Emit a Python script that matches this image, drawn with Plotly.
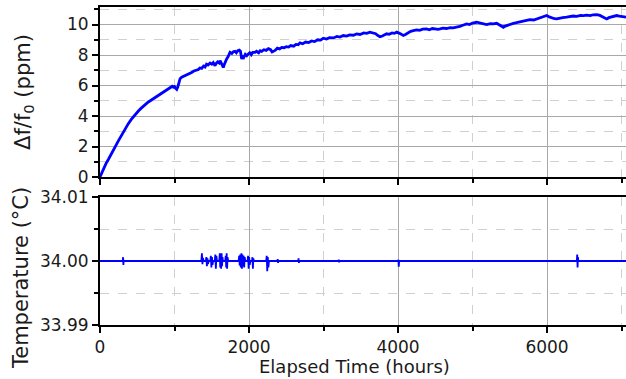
import plotly.graph_objects as go

# ---- Data ----
elapsed_hours = [0, 20, 50, 80, 112, 150, 201, 250, 291, 340, 380, 420, 450, 480, 515, 550, 580, 610, 649, 680,
                 720, 750, 783, 820, 850, 880, 917, 950, 970, 985, 1000, 1015, 1030, 1045, 1060, 1075, 1096, 1120,
                 1150, 1180, 1200, 1230, 1260, 1290, 1320, 1340, 1365, 1390, 1410, 1430, 1450, 1477, 1500, 1520,
                 1544, 1560, 1580, 1600, 1611, 1630, 1645, 1655, 1670, 1685, 1700, 1720, 1745, 1770, 1790, 1812,
                 1830, 1850, 1870, 1885, 1895, 1902, 1915, 1930, 1950, 1970, 1991, 2010, 2030, 2050, 2081, 2100,
                 2130, 2150, 2170, 2200, 2230, 2260, 2290, 2310, 2327, 2350, 2380, 2410, 2440, 2470, 2500, 2530,
                 2560, 2600, 2630, 2660, 2685, 2720, 2760, 2800, 2840, 2880, 2920, 2960, 2998, 3040, 3080, 3132,
                 3180, 3220, 3266, 3310, 3350, 3400, 3445, 3490, 3540, 3580, 3624, 3660, 3700, 3730, 3758, 3790,
                 3820, 3848, 3880, 3920, 3950, 3982, 4020, 4050, 4072, 4100, 4140, 4170, 4206, 4250, 4290, 4330,
                 4385, 4420, 4460, 4500, 4540, 4564, 4600, 4650, 4700, 4740, 4787, 4830, 4870, 4922, 4960, 5000,
                 5056, 5100, 5150, 5190, 5240, 5280, 5324, 5360, 5390, 5414, 5440, 5480, 5520, 5548, 5590, 5640,
                 5680, 5727, 5770, 5820, 5861, 5900, 5940, 5970, 5996, 6030, 6070, 6100, 6130, 6170, 6210, 6264,
                 6300, 6350, 6400, 6450, 6488, 6530, 6580, 6620, 6667, 6710, 6750, 6780, 6801, 6830, 6870, 6900,
                 6935, 6970, 7010, 7060]
drift_ppm = [0.0, 0.24, 0.58, 0.88, 1.15, 1.52, 1.98, 2.40, 2.75, 3.18, 3.50, 3.78, 3.97, 4.15, 4.33, 4.50, 4.64,
             4.76, 4.92, 5.02, 5.15, 5.26, 5.35, 5.47, 5.55, 5.66, 5.77, 5.86, 5.95, 5.90, 5.93, 5.82, 5.75, 5.92,
             6.25, 6.45, 6.55, 6.60, 6.68, 6.72, 6.80, 6.86, 6.95, 7.00, 7.05, 7.15, 7.12, 7.28, 7.22, 7.40, 7.35,
             7.48, 7.40, 7.50, 7.30, 7.45, 7.55, 7.48, 7.63, 7.45, 7.30, 7.18, 7.40, 7.62, 7.74, 7.90, 8.18, 8.10,
             8.22, 8.24, 8.15, 8.28, 8.32, 8.25, 7.90, 7.74, 7.95, 7.85, 8.05, 7.95, 8.07, 8.15, 8.02, 8.18, 8.18,
             8.25, 8.15, 8.28, 8.24, 8.35, 8.30, 8.42, 8.35, 8.20, 8.24, 8.30, 8.45, 8.40, 8.50, 8.48, 8.55, 8.52,
             8.62, 8.58, 8.70, 8.68, 8.80, 8.74, 8.85, 8.82, 8.92, 8.88, 9.00, 8.98, 9.10, 9.05, 9.14, 9.12, 9.22,
             9.18, 9.28, 9.24, 9.32, 9.30, 9.39, 9.35, 9.45, 9.42, 9.50, 9.44, 9.40, 9.28, 9.20, 9.25, 9.35, 9.39,
             9.36, 9.45, 9.42, 9.50, 9.42, 9.32, 9.28, 9.35, 9.48, 9.55, 9.60, 9.65, 9.62, 9.70, 9.71, 9.66, 9.74,
             9.70, 9.68, 9.71, 9.76, 9.74, 9.80, 9.78, 9.82, 9.88, 9.95, 10.04, 10.00, 10.10, 10.15, 10.10, 10.02,
             10.00, 10.06, 10.04, 10.08, 9.98, 9.88, 9.82, 9.90, 9.98, 10.05, 10.08, 10.12, 10.18, 10.22, 10.26,
             10.32, 10.30, 10.37, 10.42, 10.50, 10.55, 10.59, 10.50, 10.42, 10.38, 10.37, 10.42, 10.46, 10.48,
             10.52, 10.56, 10.54, 10.60, 10.59, 10.62, 10.58, 10.64, 10.65, 10.60, 10.50, 10.40, 10.37, 10.45,
             10.52, 10.56, 10.59, 10.55, 10.50, 10.48]

temp_hours = [0, 305, 310, 314, 318,
              1360, 1368, 1375, 1382, 1390,
              1420, 1428, 1435, 1442, 1450, 1458,
              1480, 1488, 1495, 1502, 1510, 1518,
              1540, 1548, 1555, 1562, 1570,
              1600, 1608, 1614, 1620, 1626, 1632, 1638, 1644, 1650,
              1680, 1688, 1694, 1700, 1706, 1712, 1720,
              1860, 1868, 1875, 1882, 1890, 1898, 1905, 1912, 1920, 1928, 1935, 1942, 1950,
              1980, 1988, 1995, 2002, 2010, 2018,
              2040, 2046, 2052, 2058, 2066,
              2230, 2238, 2245, 2252, 2260, 2268,
              2380, 2385, 2390, 2395,
              2660, 2665, 2670, 2675,
              3200, 3205, 3210, 3215,
              4000, 4005, 4010, 4015,
              6400, 6405, 6410, 6415, 6420,
              7060]
temp_c = [34.0000, 34.0000, 34.0006, 33.9994, 34.0000,
          34.0000, 34.0012, 33.9995, 34.0005, 34.0000,
          34.0000, 34.0006, 33.9992, 34.0004, 33.9995, 34.0000,
          34.0000, 34.0008, 33.9990, 34.0006, 33.9994, 34.0000,
          34.0000, 34.0010, 33.9988, 34.0008, 34.0000,
          34.0000, 34.0012, 33.9990, 34.0010, 33.9988, 34.0012, 33.9992, 34.0006, 34.0000,
          34.0000, 34.0008, 33.9990, 34.0012, 33.9988, 34.0006, 34.0000,
          34.0000, 34.0008, 33.9993, 34.0010, 33.9990, 34.0012, 33.9988, 34.0010, 33.9992, 34.0008, 33.9990, 34.0006, 34.0000,
          34.0000, 34.0008, 33.9988, 34.0006, 33.9994, 34.0000,
          34.0000, 34.0006, 33.9988, 34.0004, 34.0000,
          34.0000, 34.0008, 33.9984, 34.0006, 33.9990, 34.0000,
          34.0000, 34.0003, 33.9997, 34.0000,
          34.0000, 34.0004, 33.9997, 34.0000,
          34.0000, 34.0002, 33.9998, 34.0000,
          34.0000, 34.0002, 33.9991, 34.0000,
          34.0000, 34.0010, 33.9990, 34.0006, 34.0000,
          34.0000]

x_ticks = [0, 2000, 4000, 6000]
ppm_ticks = [0, 2, 4, 6, 8, 10]
temp_ticks = [33.99, 34.00, 34.01]

FONT = "DejaVu Sans, Liberation Sans, Arial, sans-serif"
TXT = "#1a1a1a"
BLUE = "#0000ff"

fig = go.Figure()
fig.add_trace(go.Scatter(x=elapsed_hours, y=drift_ppm, mode="lines",
                         line=dict(color=BLUE, width=2.8), xaxis="x", yaxis="y", showlegend=False))
fig.add_trace(go.Scatter(x=temp_hours, y=temp_c, mode="lines",
                         line=dict(color=BLUE, width=1.8), xaxis="x2", yaxis="y2", showlegend=False))

def xaxis_style(show_labels, anchor):
    return dict(range=[0, 7060], anchor=anchor, automargin=False, tickmode="array", tickvals=x_ticks,
                ticktext=[str(v) for v in x_ticks], showticklabels=show_labels,
                showline=True, linecolor="black", linewidth=2, mirror=True,
                ticks="outside", ticklen=6, tickwidth=2, tickcolor="black",
                showgrid=True, gridcolor="#a8a8a8", gridwidth=1, zeroline=False,
                tickfont=dict(family=FONT, size=17, color=TXT),
                minor=dict(dtick=1000, tick0=0, ticks="outside", ticklen=4, tickwidth=1.5,
                           tickcolor="black", showgrid=True, gridcolor="#d0d0d0",
                           griddash="dash", gridwidth=1))

def yaxis_style(domain, rng, ticks, minor_dtick, fmt, anchor):
    return dict(domain=domain, range=rng, anchor=anchor, automargin=False, tickmode="array", tickvals=ticks,
                ticktext=[fmt.format(v) for v in ticks],
                showline=True, linecolor="black", linewidth=2, mirror=False,
                ticks="outside", ticklen=6, tickwidth=2, tickcolor="black",
                showgrid=True, gridcolor="#a8a8a8", gridwidth=1, zeroline=False,
                tickfont=dict(family=FONT, size=17, color=TXT),
                minor=dict(dtick=minor_dtick, tick0=rng[0], ticks="outside", ticklen=4,
                           tickwidth=1.5, tickcolor="black", showgrid=True,
                           gridcolor="#d0d0d0", griddash="dash", gridwidth=1))

fig.update_layout(
    width=626, height=379,
    margin=dict(l=100, r=0, t=7, b=54, autoexpand=False),
    paper_bgcolor="white", plot_bgcolor="white",
    xaxis=xaxis_style(False, "y"),
    xaxis2=xaxis_style(True, "y2"),
    yaxis=yaxis_style([0.4654, 1.0], [0, 11.15], ppm_ticks, 1, "{:g}", "x"),
    yaxis2=yaxis_style([0.0, 0.4025], [33.99, 34.01], temp_ticks, 0.005, "{:.2f}", "x2"),
    annotations=[
        dict(text="Elapsed Time (hours)", xref="paper", yref="paper", x=0.483, y=-0.13,
             xanchor="center", yanchor="middle", showarrow=False,
             font=dict(family=FONT, size=18, color=TXT)),
        dict(text="Δf/f<sub>0</sub> (ppm)", xref="paper", yref="paper", x=-0.1445, y=0.733,
             xanchor="center", yanchor="middle", textangle=-90, showarrow=False,
             font=dict(family=FONT, size=21, color=TXT)),
        dict(text="Temperature (°C)", xref="paper", yref="paper", x=-0.150, y=0.148,
             xanchor="center", yanchor="middle", textangle=-90, showarrow=False,
             font=dict(family=FONT, size=21, color=TXT)),
    ],
)

fig.write_html("out.html", config={"displayModeBar": False},
               post_script="document.body.style.margin='0';document.body.style.overflow='hidden';")
